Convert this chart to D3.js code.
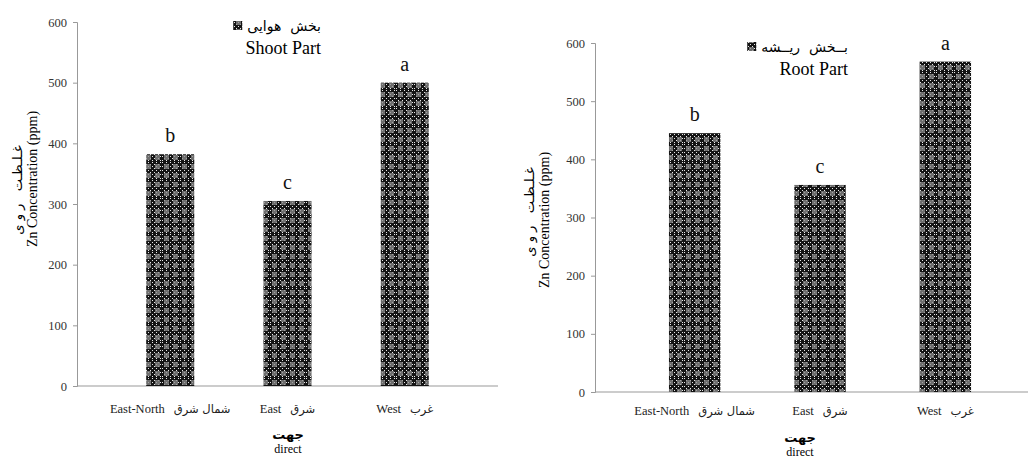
<!DOCTYPE html>
<html>
<head>
<meta charset="utf-8">
<script src="https://cdn.jsdelivr.net/npm/d3@7"></script>
<style>
  body { margin: 0; background: #fff; }
  svg text { font-family: "Liberation Serif", "Times New Roman", serif; }
  svg text.fa { font-family: "DejaVu Sans", sans-serif; white-space: pre; }
</style>
</head>
<body>
<div id="plot"></div>
<script>
// data
const categories = ["East-North", "East", "West"];
const categoryFa = ["شمال شرق", "شرق", "غرب"];
const shootValues = [382, 305, 500];
const rootValues = [445, 356, 568];
const shootLetters = ["b", "c", "a"];
const rootLetters = ["b", "c", "a"];
const yTicks = [0, 100, 200, 300, 400, 500, 600];

const svg = d3.select("#plot")
    .append("svg")
    .attr("width", 1031)
    .attr("height", 459);

// bar fill pattern: dark checks with grey blocks
const defs = svg.append("defs");
const pat = defs.append("pattern")
    .attr("id", "checks")
    .attr("patternUnits", "userSpaceOnUse")
    .attr("width", 18)
    .attr("height", 18);
pat.append("rect").attr("width", 18).attr("height", 18).attr("fill", "#141414");
for (let i = 0; i < 9; i++) {
    for (let j = 0; j < 9; j++) {
        if ((i + j) % 2 === 0) {
            pat.append("rect").attr("x", i * 2).attr("y", j * 2)
                .attr("width", 1).attr("height", 1).attr("fill", "#e8e8e8");
        }
    }
}
[[2, 2], [11, 2], [2, 11], [11, 11]].forEach(p => {
    pat.append("rect").attr("x", p[0]).attr("y", p[1]).attr("width", 5).attr("height", 5)
        .attr("fill", "#8c8c8c").attr("opacity", 0.75);
});

function drawChart(cfg) {
    const g = svg.append("g");
    const x = d3.scaleBand().domain(categories).range([cfg.x0, cfg.x1]).padding(cfg.pad);
    const y = d3.scaleLinear().domain([0, 600]).range([cfg.yBottom, cfg.yTop]);

    // y axis
    const yAxis = g.append("g")
        .attr("transform", `translate(${cfg.x0},0)`)
        .call(d3.axisLeft(y).tickValues(yTicks).tickSize(4).tickPadding(6));
    yAxis.attr("font-family", null);
    yAxis.select(".domain").attr("stroke", "#999");
    yAxis.selectAll(".tick line").attr("stroke", "#999");
    yAxis.selectAll(".tick text")
        .attr("fill", "#333")
        .style("font-family", "'Liberation Serif', serif")
        .style("font-size", "12.5px");

    // x axis line
    g.append("line")
        .attr("x1", cfg.x0).attr("x2", cfg.xLineEnd)
        .attr("y1", y(0)).attr("y2", y(0))
        .attr("stroke", "#999");

    // bars
    g.selectAll("rect.bar").data(cfg.values).enter().append("rect")
        .attr("class", "bar")
        .attr("x", (d, i) => x(categories[i]))
        .attr("y", d => y(d))
        .attr("width", x.bandwidth())
        .attr("height", d => y(0) - y(d))
        .attr("fill", "url(#checks)");

    // letters
    g.selectAll("text.letter").data(cfg.values).enter().append("text")
        .attr("x", (d, i) => x(categories[i]) + x.bandwidth() / 2)
        .attr("y", d => y(d) - 12)
        .attr("text-anchor", "middle")
        .style("font-size", "20px")
        .attr("fill", "#111")
        .text((d, i) => cfg.letters[i]);

    // category labels: english then persian
    categories.forEach((c, i) => {
        const cx = x(c) + x.bandwidth() / 2;
        const t = g.append("text")
            .attr("y", y(0) + cfg.catDy)
            .attr("fill", "#222")
            .style("font-family", "'Liberation Serif', serif")
            .style("font-size", "12.5px")
            .text(c);
        const fa = g.append("text")
            .attr("class", "fa")
            .attr("y", y(0) + cfg.catDy)
            .attr("fill", "#222")
            .style("font-size", "11.5px")
            .text(categoryFa[i]);
        const wEn = t.node().getComputedTextLength();
        const wFa = fa.node().getComputedTextLength();
        const gap = 9;
        const start = cx - (wEn + gap + wFa) / 2;
        t.attr("x", start);
        fa.attr("x", start + wEn + gap);
    });

    // x title
    g.append("text")
        .attr("class", "fa")
        .attr("x", cfg.titleX).attr("y", y(0) + cfg.titleDy)
        .attr("text-anchor", "middle")
        .style("font-size", "13px")
        .style("font-weight", "bold")
        .text("جهت");
    g.append("text")
        .attr("x", cfg.titleX).attr("y", y(0) + cfg.titleDy + 14)
        .attr("text-anchor", "middle")
        .style("font-size", "12px")
        .text("direct");

    // y title
    g.append("text")
        .attr("transform", `translate(${cfg.yLabelX},${cfg.yLabelY}) rotate(-90)`)
        .attr("text-anchor", "middle")
        .style("font-size", "14px")
        .text("Zn Concentration (ppm)");
    g.append("text")
        .attr("class", "fa")
        .attr("transform", `translate(${cfg.yLabelX - 15},${cfg.yLabelFaY}) rotate(-90)`)
        .attr("text-anchor", "middle")
        .style("font-size", "13px")
        .text("غـلـظـت   ر و ی");

    // legend
    const legFa = g.append("text")
        .attr("class", "fa")
        .attr("x", cfg.legEnd).attr("y", cfg.legY)
        .attr("text-anchor", "end")
        .style("font-size", "14px")
        .text(cfg.legendFa);
    const w = legFa.node().getComputedTextLength();
    g.append("rect")
        .attr("x", cfg.legEnd - w - 14).attr("y", cfg.legY - 10)
        .attr("width", 9).attr("height", 9)
        .attr("fill", "url(#checks)");
    g.append("text")
        .attr("x", cfg.legEnd).attr("y", cfg.legY + 23)
        .attr("text-anchor", "end")
        .style("font-size", "18px")
        .text(cfg.legendEn);
}

drawChart({
    values: shootValues, letters: shootLetters,
    x0: 77, x1: 498, xLineEnd: 498, pad: 0.59,
    yBottom: 386, yTop: 22,
    catDy: 27, titleDy: 53, titleX: 288,
    yLabelX: 37, yLabelY: 179, yLabelFaY: 190,
    legEnd: 321, legY: 31,
    legendFa: "بخش  هوایی", legendEn: "Shoot Part"
});

drawChart({
    values: rootValues, letters: rootLetters,
    x0: 595, x1: 1045, xLineEnd: 1028, pad: 0.59,
    yBottom: 392, yTop: 43,
    catDy: 23, titleDy: 50, titleX: 800,
    yLabelX: 549, yLabelY: 220, yLabelFaY: 212,
    legEnd: 848, legY: 52,
    legendFa: "بــخش  ریــشه", legendEn: "Root Part"
});
</script>
</body>
</html>
